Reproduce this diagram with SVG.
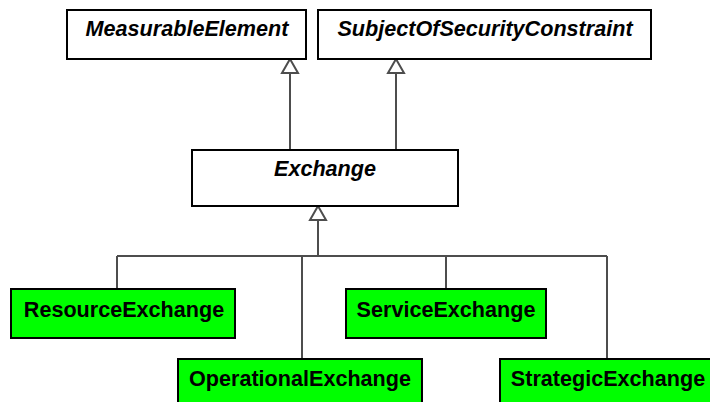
<svg xmlns="http://www.w3.org/2000/svg" width="710" height="402" viewBox="0 0 710 402">
<style>
.box{stroke:#000;stroke-width:2;}
.abs{fill:#fff;}
.leaf{fill:#00ff00;}
.t{font-family:"Liberation Sans",Arial,sans-serif;font-weight:bold;font-size:21.6px;text-anchor:middle;fill:#000;}
.i{font-style:italic;}
.ln{stroke:#4d4d4d;stroke-width:2;fill:none;}
.tri{stroke:#4d4d4d;stroke-width:2;fill:#fff;stroke-linejoin:miter;}
</style>
<rect width="710" height="402" fill="#fff"/>
<g id="connectors">
<path class="ln" d="M290 73 V150 M396 73 V150"/>
<path class="ln" d="M318 220 V256 M117 256 H607 M117 256 V289 M302 256 V359 M446 256 V289 M607 256 V359"/>
<path class="tri" d="M290 59 L282 73 L298 73 Z"/>
<path class="tri" d="M396 59 L388 73 L404 73 Z"/>
<path class="tri" d="M318 206 L310 220 L326 220 Z"/>
</g>
<g id="MeasurableElement">
<rect class="box abs" x="67" y="10" width="239" height="49"/>
<text class="t i" x="187" y="36">MeasurableElement</text>
</g>
<g id="SubjectOfSecurityConstraint">
<rect class="box abs" x="318" y="10" width="333" height="49"/>
<text class="t i" x="485" y="36">SubjectOfSecurityConstraint</text>
</g>
<g id="Exchange">
<rect class="box abs" x="192" y="150" width="266" height="56"/>
<text class="t i" x="325" y="176">Exchange</text>
</g>
<g id="ResourceExchange">
<rect class="box leaf" x="11" y="289" width="224" height="49"/>
<text class="t" x="124" y="317">ResourceExchange</text>
</g>
<g id="ServiceExchange">
<rect class="box leaf" x="346" y="289" width="200" height="49"/>
<text class="t" x="446" y="317">ServiceExchange</text>
</g>
<g id="OperationalExchange">
<rect class="box leaf" x="178" y="359" width="244" height="49"/>
<text class="t" x="300" y="386">OperationalExchange</text>
</g>
<g id="StrategicExchange">
<rect class="box leaf" x="500" y="359" width="216" height="49"/>
<text class="t" x="608" y="386">StrategicExchange</text>
</g>
</svg>
